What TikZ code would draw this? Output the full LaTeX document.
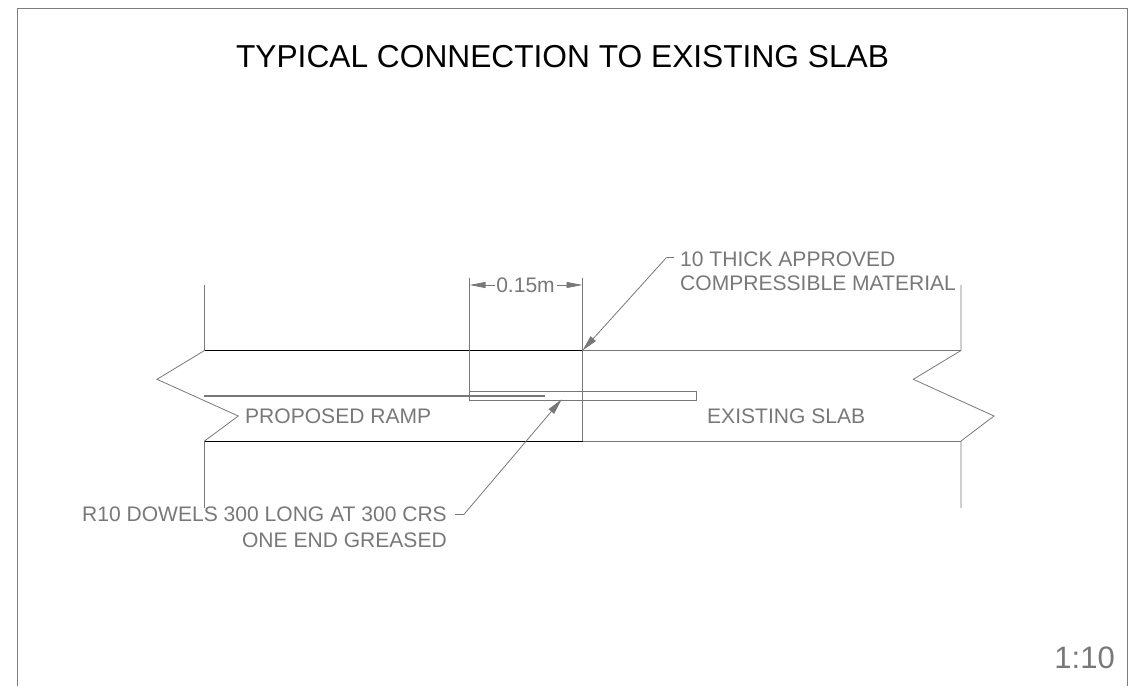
\documentclass[tikz,border=0pt]{standalone}
\usepackage{fontspec}
\setmainfont{Liberation Sans}
\usetikzlibrary{arrows.meta}
\definecolor{cadgray}{RGB}{120,120,120}
\definecolor{framegray}{RGB}{125,125,125}
\begin{document}
\begin{tikzpicture}[x=1pt,y=-1pt,
  thin line/.style={draw=cadgray,line width=0.8pt},
  heavy line/.style={draw=black,line width=0.8pt},
  rod line/.style={draw=cadgray,line width=1.4pt},
  frame line/.style={draw=framegray,line width=1.0pt},
  dim arrow/.style={draw=cadgray,line width=0.8pt,-{Triangle[length=16pt,width=6pt]}},
  lead arrow/.style={draw=cadgray,line width=0.8pt,-{Triangle[length=16pt,width=7pt]}},
  label text/.style={inner sep=0pt,text=cadgray,font=\fontsize{21.05}{24}\selectfont},
  title text/.style={inner sep=0pt,text=black,font=\fontsize{31.7}{36}\selectfont},
  scale text/.style={inner sep=0pt,text=cadgray,font=\fontsize{31}{36}\selectfont}]
\useasboundingbox (0,0) rectangle (1144,686);
\draw[frame line] (17,686) -- (17,8) -- (1127,8) -- (1127,686);
% title and scale
\node[title text,anchor=base] (title) at (562.5,67) {TYPICAL CONNECTION TO EXISTING SLAB};
\node[scale text,anchor=base east] (scale) at (1115,668.5) {1:10};
% coordinates
\coordinate (rtl) at (204.5,350.5);
\coordinate (rbl) at (204.5,441);
\coordinate (jt) at (582.5,350.5);
\coordinate (jb) at (582.5,441);
\coordinate (etr) at (961,350.5);
\coordinate (ebr) at (961,441);
% left break line
\draw[thin line] (204.5,285) -- (rtl) -- (157,379.3) -- (238.3,416) -- (rbl) -- (204.5,508);
% right break line
\draw[thin line] (961,285) -- (etr) -- (913.3,379.3) -- (994,416) -- (ebr) -- (961,508);
% slab edges
\draw[heavy line] (rtl) -- (jt);
\draw[heavy line] (rbl) -- (jb);
\draw[thin line] (jt) -- (etr);
\draw[thin line] (jb) -- (ebr);
% joint
\draw[thin line] (582.5,278) -- (jb);
% dowel
\draw[thin line] (469.5,391.7) rectangle (696.7,400.3);
\draw[rod line] (204,396) -- (545,396);
% dimension
\draw[thin line] (469.5,278) -- (469.5,400.3);
\node[label text,anchor=base] (dim) at (525.5,292.5) {0.15m};
\coordinate (dl) at (469.5,285);
\coordinate (dr) at (582.5,285);
\draw[dim arrow] (495,285) -- (dl);
\draw[dim arrow] (557,285) -- (dr);
% leaders
\node[label text,anchor=base west] (m1) at (680,266) {10 THICK APPROVED};
\node[label text,anchor=base west] (m2) at (680,290.5) {COMPRESSIBLE MATERIAL};
\coordinate (mb) at (666.5,257.5);
\draw[thin line] (674,257.5) -- (mb);
\draw[lead arrow] (mb) -- (jt);
\node[label text,anchor=base east] (d1) at (447,521.5) {R10 DOWELS 300 LONG AT 300 CRS};
\node[label text,anchor=base east] (d2) at (447,547.5) {ONE END GREASED};
\coordinate (da) at (464,514.3);
\coordinate (dt) at (561.7,399.3);
\draw[thin line] (455,514.3) -- (da);
\draw[lead arrow] (da) -- (dt);
% labels
\node[label text,anchor=base west] (ramp) at (245,423.5) {PROPOSED RAMP};
\node[label text,anchor=base west] (slab) at (707,423.5) {EXISTING SLAB};
\end{tikzpicture}
\end{document}
